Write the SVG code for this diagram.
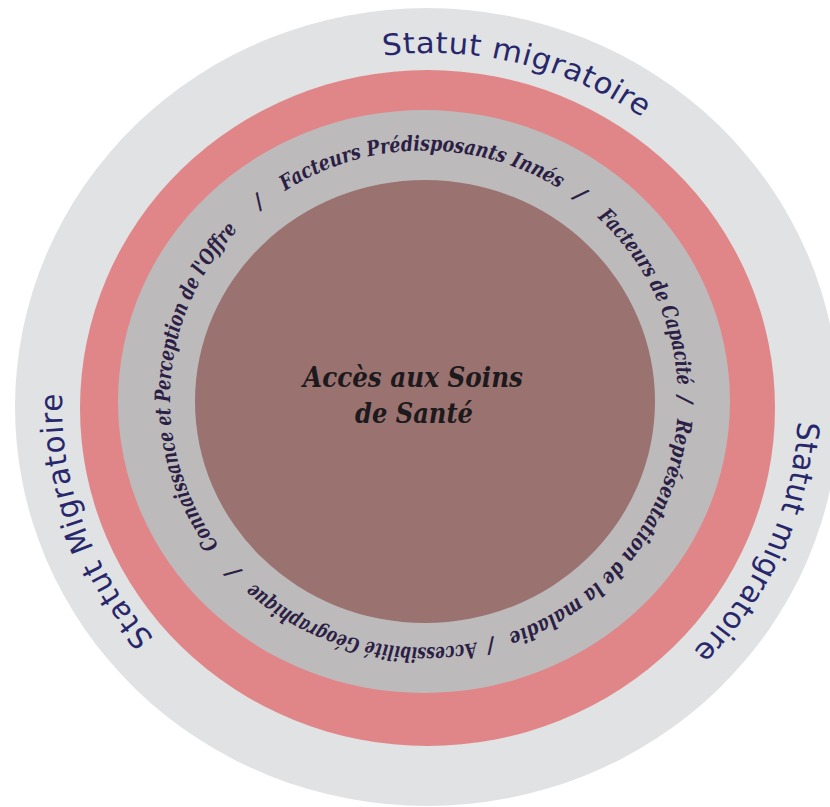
<svg xmlns="http://www.w3.org/2000/svg" xmlns:xlink="http://www.w3.org/1999/xlink" width="830" height="807" viewBox="0 0 830 807">
  <style>
    .outer-t { font-family: "DejaVu Sans", "Liberation Sans", sans-serif; font-size: 30px; fill: #27276b; }
    .ring-t { font-family: "DejaVu Serif", "Liberation Serif", serif; font-size: 21px; font-style: italic; font-weight: bold; fill: #2b1f45; }
    .center-t { font-family: "DejaVu Serif", "Liberation Serif", serif; font-size: 28px; font-style: italic; font-weight: bold; fill: #1c1a1c; }
  </style>
  <defs>
    <path id="ringPath" d="M251,0 A251,251 0 1 1 -251,0 A251,251 0 1 1 251,0 A251,251 0 1 1 -251,0 A251,251 0 1 1 251,0"/>
    <path id="outerPath" d="M360,0 A360,360 0 1 1 -360,0 A360,360 0 1 1 360,0 A360,360 0 1 1 -360,0 A360,360 0 1 1 360,0"/>
  </defs>
  <rect width="830" height="807" fill="#ffffff"/>

  <g id="outer-ring">
    <ellipse cx="427" cy="407" rx="412" ry="399" fill="#e1e2e4"/>
    <g transform="translate(430,405) scale(1.0222,0.9778)">
      <text class="outer-t"><textPath xlink:href="#outerPath" href="#outerPath" startOffset="1783.5" text-anchor="middle" textLength="267">Statut migratoire</textPath></text>
      <text class="outer-t"><textPath xlink:href="#outerPath" href="#outerPath" startOffset="1006" text-anchor="middle" textLength="272">Statut Migratoire</textPath></text>
      <text class="outer-t"><textPath xlink:href="#outerPath" href="#outerPath" startOffset="148" text-anchor="middle" textLength="262">Statut migratoire</textPath></text>
    </g>
  </g>

  <g id="pink-ring">
    <ellipse cx="427.5" cy="408" rx="347.5" ry="338" fill="#e08688"/>
  </g>

  <g id="factors-ring">
    <ellipse cx="424" cy="401.5" rx="306" ry="291.5" fill="#bdbabb"/>
    <g transform="translate(424,399) scale(1.012,0.99)">
      <text class="ring-t"><textPath xlink:href="#ringPath" href="#ringPath" startOffset="803" text-anchor="middle" textLength="346" lengthAdjust="spacingAndGlyphs">Connaissance et Perception de l'Offre</textPath></text>
      <text class="ring-t"><textPath xlink:href="#ringPath" href="#ringPath" startOffset="1010.2" text-anchor="middle">/</textPath></text>
      <text class="ring-t"><textPath xlink:href="#ringPath" href="#ringPath" startOffset="1180" text-anchor="middle" textLength="286" lengthAdjust="spacingAndGlyphs">Facteurs Prédisposants Innés</textPath></text>
      <text class="ring-t"><textPath xlink:href="#ringPath" href="#ringPath" startOffset="1343.5" text-anchor="middle">/</textPath></text>
      <text class="ring-t"><textPath xlink:href="#ringPath" href="#ringPath" startOffset="1466.5" text-anchor="middle" textLength="192" lengthAdjust="spacingAndGlyphs">Facteurs de Capacité</textPath></text>
      <text class="ring-t"><textPath xlink:href="#ringPath" href="#ringPath" startOffset="1577.1" text-anchor="middle">/</textPath></text>
      <text class="ring-t"><textPath xlink:href="#ringPath" href="#ringPath" startOffset="1741.4" text-anchor="middle" textLength="290" lengthAdjust="spacingAndGlyphs">Représentation de la maladie</textPath></text>
      <text class="ring-t"><textPath xlink:href="#ringPath" href="#ringPath" startOffset="1905.6" text-anchor="middle">/</textPath></text>
      <text class="ring-t"><textPath xlink:href="#ringPath" href="#ringPath" startOffset="461" text-anchor="middle" textLength="236" lengthAdjust="spacingAndGlyphs">Accessibilité Géographique</textPath></text>
      <text class="ring-t"><textPath xlink:href="#ringPath" href="#ringPath" startOffset="600.5" text-anchor="middle">/</textPath></text>
    </g>
  </g>

  <g id="center">
    <ellipse cx="425" cy="401.5" rx="230" ry="221.5" fill="#9a7270"/>
    <text class="center-t" x="413" y="387" text-anchor="middle" textLength="220" lengthAdjust="spacingAndGlyphs">Accès aux Soins</text>
    <text class="center-t" x="414" y="423" text-anchor="middle" textLength="118" lengthAdjust="spacingAndGlyphs">de Santé</text>
  </g>
</svg>
